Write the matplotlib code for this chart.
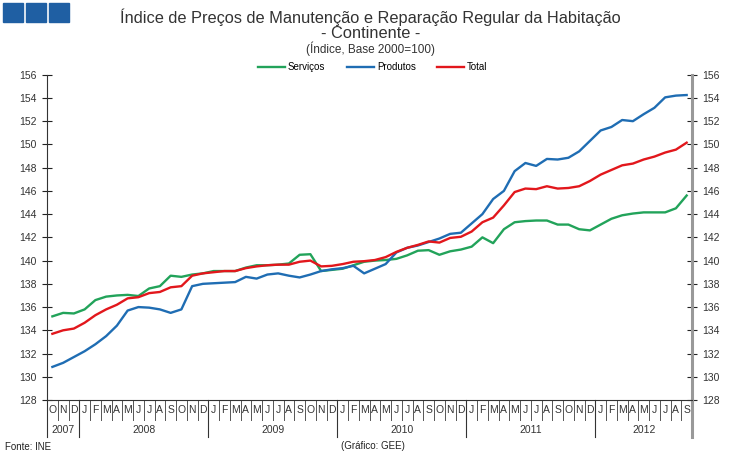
import numpy as np
import matplotlib
matplotlib.use('Agg')
import matplotlib.pyplot as plt
from matplotlib.patches import Rectangle

plt.rcParams['font.family'] = ['Liberation Sans', 'DejaVu Sans']

# monthly index, Oct 2007 .. Sep 2012
months = ['O', 'N', 'D'] + ['J', 'F', 'M', 'A', 'M', 'J', 'J', 'A', 'S', 'O', 'N', 'D'] * 4 + \
         ['J', 'F', 'M', 'A', 'M', 'J', 'J', 'A', 'S']
years = ['2007', '2008', '2009', '2010', '2011', '2012']
year_len = [3, 12, 12, 12, 12, 9]

servicos = [135.2, 135.5, 135.45, 135.8, 136.6, 136.9, 137.0, 137.05, 136.95, 137.6,
            137.8, 138.7, 138.6, 138.8, 138.9, 139.1, 139.1, 139.1, 139.4, 139.6,
            139.6, 139.65, 139.75, 140.5, 140.55, 139.1, 139.2, 139.3, 139.6, 139.9,
            140.0, 140.05, 140.15, 140.45, 140.85, 140.9, 140.5, 140.8, 140.95, 141.2,
            142.0, 141.5, 142.7, 143.3, 143.4, 143.45, 143.45, 143.1, 143.1, 142.7,
            142.6, 143.1, 143.6, 143.9, 144.05, 144.15, 144.15, 144.15, 144.5, 145.6]
produtos = [130.85, 131.2, 131.7, 132.2, 132.8, 133.5, 134.4, 135.7, 136.0, 135.95,
            135.8, 135.5, 135.8, 137.8, 138.0, 138.05, 138.1, 138.15, 138.6, 138.45,
            138.8, 138.9, 138.7, 138.55, 138.8, 139.1, 139.25, 139.35, 139.55, 138.9,
            139.3, 139.7, 140.7, 141.1, 141.3, 141.6, 141.9, 142.3, 142.4, 143.2,
            144.0, 145.3, 146.0, 147.7, 148.4, 148.15, 148.75, 148.7, 148.85, 149.4,
            150.3, 151.2, 151.5, 152.1, 152.0, 152.6, 153.15, 154.05, 154.2, 154.25]
total = [133.7, 134.0, 134.15, 134.65, 135.3, 135.8, 136.2, 136.75, 136.85, 137.2,
         137.3, 137.7, 137.8, 138.7, 138.9, 139.0, 139.1, 139.1, 139.35, 139.5,
         139.6, 139.65, 139.65, 139.9, 140.0, 139.5, 139.55, 139.7, 139.9, 139.95,
         140.05, 140.3, 140.75, 141.1, 141.35, 141.65, 141.55, 141.95, 142.05, 142.5,
         143.3, 143.7, 144.75, 145.9, 146.2, 146.15, 146.4, 146.2, 146.25, 146.4,
         146.85, 147.4, 147.8, 148.2, 148.35, 148.7, 148.95, 149.3, 149.55, 150.15]

fig = plt.figure(figsize=(7.45, 4.58), dpi=100)
ax = fig.add_axes([0.0631, 0.1266, 0.8658, 0.7103])

x = np.arange(len(months))
ax.plot(x, servicos, color='#22a35a', lw=1.7, label='Serviços')
ax.plot(x, produtos, color='#1f6db3', lw=1.7, label='Produtos')
ax.plot(x, total, color='#e2171c', lw=1.7, label='Total')

ax.set_xlim(-0.5, len(months) - 0.5)
ax.set_ylim(128, 156)
ax.set_yticks(np.arange(128, 157, 2))
ax.set_xticks([])

ax.spines['top'].set_visible(False)
ax.spines['left'].set_color('#333333')
ax.spines['left'].set_linewidth(0.8)
ax.spines['right'].set_color('#999999')
ax.spines['right'].set_linewidth(2.2)
ax.spines['bottom'].set_color('#333333')
ax.spines['bottom'].set_linewidth(0.8)
ax.tick_params(axis='y', which='major', direction='inout', length=7, width=0.8,
               color='#222222', labelsize=7.5, labelcolor='#333333', pad=4,
               right=True, labelright=True)

# category axis: month cells and year cells
xt = ax.get_xaxis_transform()
for i, m in enumerate(months):
    ax.text(i, -0.031, m, transform=xt, ha='center', va='center', fontsize=7.5, color='#333333')
    if i > 0:
        ax.plot([i - 0.5, i - 0.5], [0, -0.062], transform=xt, color='#555555', lw=0.7, clip_on=False)
start = 0
for y, n in zip(years, year_len):
    ax.text(start + (n - 1) / 2, -0.093, y, transform=xt, ha='center', va='center',
            fontsize=7.5, color='#333333')
    ax.plot([start - 0.5, start - 0.5], [0, -0.115], transform=xt, color='#333333', lw=0.8, clip_on=False)
    start += n
ax.plot([start - 0.5, start - 0.5], [0, -0.115], transform=xt, color='#999999', lw=2.2, clip_on=False)

leg = ax.legend(loc='lower center', bbox_to_anchor=(0.505, 0.98), ncol=3, frameon=False,
                fontsize=7, handlelength=2.8, columnspacing=2.2, handletextpad=0.3)

# logo squares
for k in range(3):
    fig.add_artist(Rectangle((3 / 745 + k * 23 / 745, 1 - 22 / 458), 20 / 745, 19 / 458,
                             transform=fig.transFigure, color='#1f5fa3'))

fig.text(0.497, 0.963, 'Índice de Preços de Manutenção e Reparação Regular da Habitação',
         ha='center', va='center', fontsize=11.8, color='#333333')
fig.text(0.497, 0.926, '- Continente -', ha='center', va='center', fontsize=11.8, color='#333333')
fig.text(0.497, 0.894, '(Índice, Base 2000=100)', ha='center', va='center', fontsize=8.5, color='#333333')
fig.text(0.007, 0.024, 'Fonte: INE', ha='left', va='center', fontsize=7, color='#222222')
fig.text(0.5, 0.026, '(Gráfico: GEE)', ha='center', va='center', fontsize=7, color='#222222')

fig.savefig('out.png', dpi=100)
